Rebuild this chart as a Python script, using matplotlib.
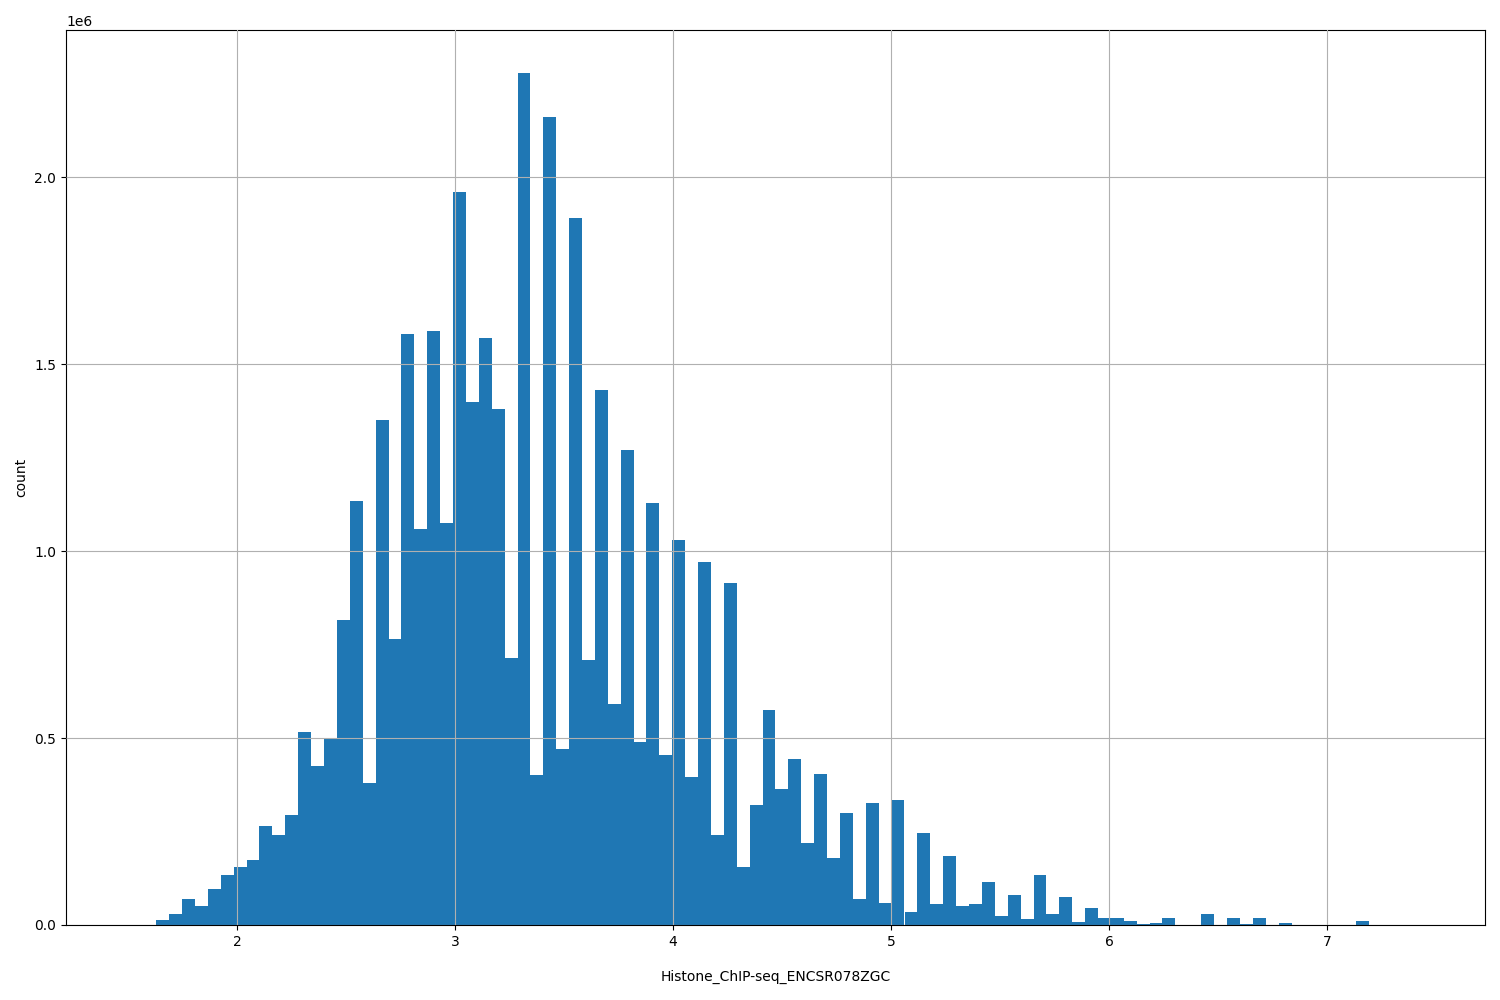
import numpy as np
import matplotlib
matplotlib.use("Agg")
import matplotlib.pyplot as plt

data_min, data_max, nbins = 1.512, 7.429, 100
counts = [0, 0, 0.013, 0.03, 0.07, 0.05, 0.095, 0.135, 0.155, 0.175,
          0.265, 0.24, 0.295, 0.515, 0.425, 0.5, 0.815, 1.135, 0.38, 1.35,
          0.765, 1.58, 1.06, 1.59, 1.075, 1.96, 1.40, 1.57, 1.38, 0.715,
          2.28, 0.40, 2.16, 0.47, 1.89, 0.71, 1.43, 0.59, 1.27, 0.49,
          1.13, 0.455, 1.03, 0.395, 0.97, 0.24, 0.915, 0.155, 0.32, 0.575,
          0.365, 0.445, 0.22, 0.405, 0.18, 0.30, 0.07, 0.325, 0.06, 0.335,
          0.035, 0.245, 0.055, 0.185, 0.05, 0.055, 0.115, 0.025, 0.08, 0.015,
          0.135, 0.03, 0.075, 0.008, 0.045, 0.02, 0.02, 0.01, 0.002, 0.005,
          0.018, 0, 0, 0.03, 0, 0.018, 0.003, 0.018, 0, 0.005,
          0, 0, 0, 0, 0, 0.01, 0, 0, 0, 0]
counts = np.array(counts) * 1e6
edges = np.linspace(data_min, data_max, nbins + 1)
centers = (edges[:-1] + edges[1:]) / 2

fig = plt.figure(figsize=(15, 10), dpi=100)
ax = fig.add_axes([0.044, 0.075, 0.946, 0.895])
ax.hist(centers, bins=edges, weights=counts, color="#1f77b4")
ax.grid(True)
ax.set_axisbelow(False)
ax.set_xlabel("Histone_ChIP-seq_ENCSR078ZGC", labelpad=15)
ax.set_ylabel("count")
fig.savefig("out.png")
